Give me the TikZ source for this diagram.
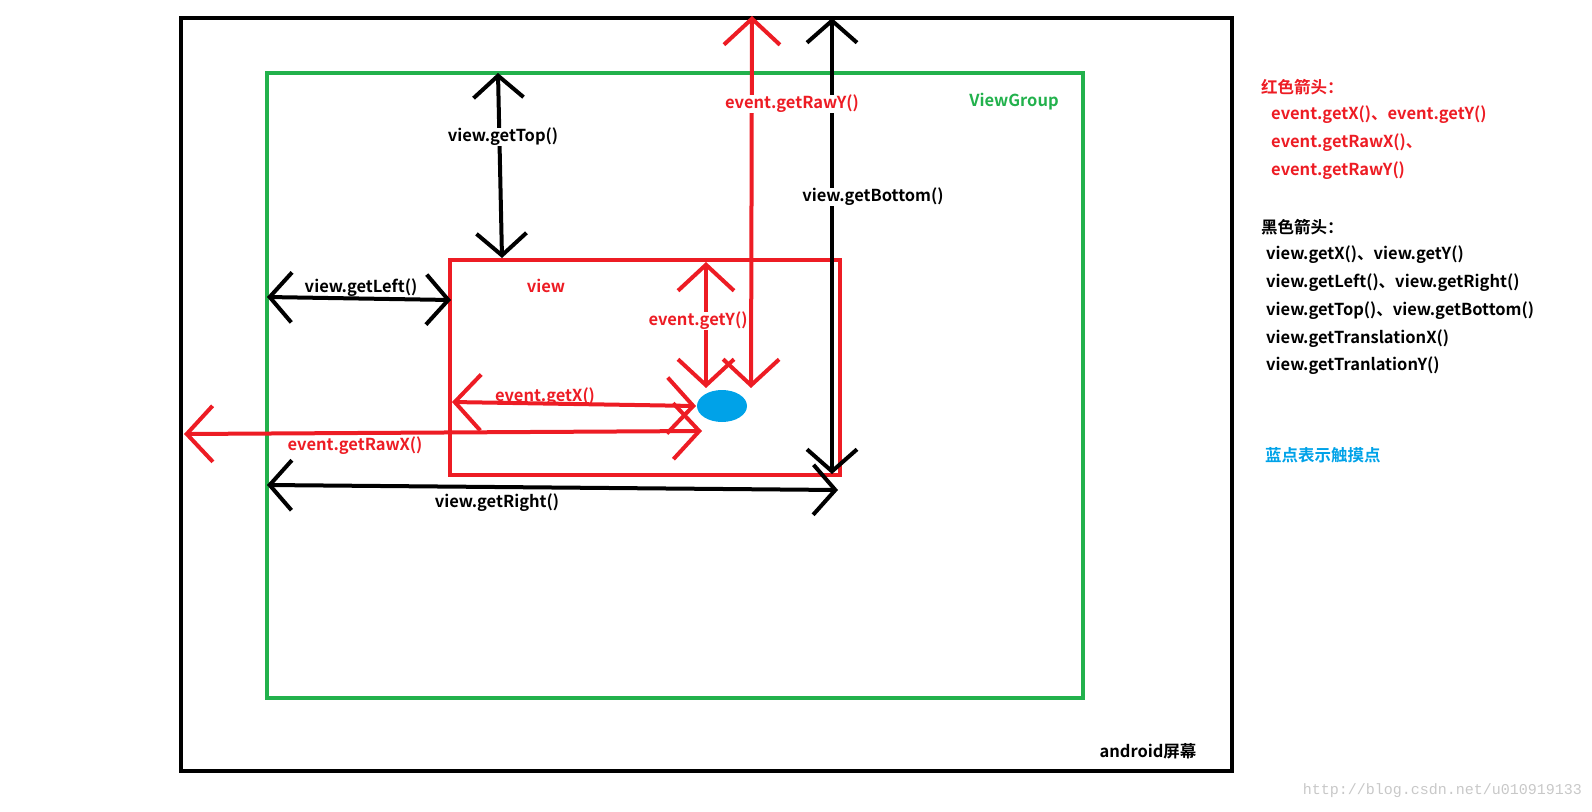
\documentclass[tikz,border=0pt]{standalone}
\usepackage{fontspec}
\setmainfont{Noto Sans CJK SC}[BoldFont={* Bold}]
\newfontfamily\markfont{Liberation Mono}
\usetikzlibrary{arrows.meta}

\definecolor{evred}{RGB}{237,28,36}
\definecolor{vggreen}{RGB}{34,177,76}
\definecolor{touchblue}{RGB}{0,162,232}
\definecolor{markgray}{RGB}{200,200,200}

\begin{document}
\begin{tikzpicture}[x=1pt, y=-1pt,
    >={Straight Barb[length=22pt,width=50pt]},
    every node/.style={font=\fontsize{16.5}{19}\selectfont\bfseries, inner sep=0pt},
    cut/.style={fill=white, inner sep=0.5pt},
    legend/.style={anchor=west}]

    % Size of the whole picture, in pixels of the screenshot
    \useasboundingbox (0,0) rectangle (1592,811);

    % Define the three frames: screen, ViewGroup and view
    \coordinate (S1) at (181,18);
    \coordinate (S2) at (1232,771);
    \coordinate (G1) at (267,73);
    \coordinate (G2) at (1083,698);
    \coordinate (V1) at (450,260);
    \coordinate (V2) at (840,475);

    % Define the touch point
    \coordinate (T) at (722,406);

    % Draw the frames
    \draw[line width=4.5pt] (S1) rectangle (S2);
    \draw[line width=4pt, vggreen] (G1) rectangle (G2);
    \draw[line width=4pt, evred] (V1) rectangle (V2);

    % Draw the touch point as a blue dot
    \fill[touchblue] (T) ellipse (25 and 16);

    % Define the ends of the black arrows
    \coordinate (topA) at (498,73);
    \coordinate (topB) at (502,258);
    \coordinate (leftA) at (267,297);
    \coordinate (leftB) at (451,300);
    \coordinate (rightA) at (267,485);
    \coordinate (rightB) at (838,490);
    \coordinate (botA) at (832,18);
    \coordinate (botB) at (832,474);

    % Draw the black arrows
    \draw[line width=4pt, <->] (topA) -- (topB);
    \draw[line width=4pt, <->] (leftA) -- (leftB);
    \draw[line width=4pt, <->] (rightA) -- (rightB);
    \draw[line width=4pt, <->] (botA) -- (botB);

    % Define the ends of the red arrows
    \coordinate (rawyA) at (752,16);
    \coordinate (rawyB) at (751,388);
    \coordinate (yA) at (706,262);
    \coordinate (yB) at (706,388);
    \coordinate (xA) at (452,402);
    \coordinate (xB) at (696,406);
    \coordinate (rawxA) at (184,434);
    \coordinate (rawxB) at (702,431);

    % Draw the red arrows, a little wider at the tips
    \draw[line width=4pt, evred, <->, >={Straight Barb[length=26pt,width=56pt]}] (rawyA) -- (rawyB);
    \draw[line width=4pt, evred, <->, >={Straight Barb[length=26pt,width=56pt]}] (yA) -- (yB);
    \draw[line width=4pt, evred, <->, >={Straight Barb[length=26pt,width=56pt]}] (xA) -- (xB);
    \draw[line width=4pt, evred, <->, >={Straight Barb[length=26pt,width=56pt]}] (rawxA) -- (rawxB);

    % Add the labels of the arrows and frames
    \node[cut] (lTop) at (503,137) {view.getTop()};
    \node (lLeft) at (361,288) {view.getLeft()};
    \node (lRight) at (497,503) {view.getRight()};
    \node[cut] (lBottom) at (873,197) {view.getBottom()};
    \node[cut, text=evred] (lRawY) at (792,104) {event.getRawY()};
    \node[cut, text=evred] (lY) at (698,321) {event.getY()};
    \node[text=evred] (lX) at (545,397) {event.getX()};
    \node[text=evred] (lRawX) at (355,446) {event.getRawX()};
    \node[text=evred] (lView) at (546,286) {view};
    \node[text=vggreen] (lGroup) at (1014,102) {ViewGroup};
    \node (lScreen) at (1148,751) {android屏幕};

    % Add the legend on the right
    \node[legend, text=evred] (redHead) at (1261,87) {红色箭头：};
    \node[legend, text=evred] (red1) at (1271,115) {event.getX()、event.getY()};
    \node[legend, text=evred] (red2) at (1271,143) {event.getRawX()、};
    \node[legend, text=evred] (red3) at (1271,171) {event.getRawY()};
    \node[legend] (blackHead) at (1261,227) {黑色箭头：};
    \node[legend] (black1) at (1266,255) {view.getX()、view.getY()};
    \node[legend] (black2) at (1266,283) {view.getLeft()、view.getRight()};
    \node[legend] (black3) at (1266,311) {view.getTop()、view.getBottom()};
    \node[legend] (black4) at (1266,339) {view.getTranslationX()};
    \node[legend] (black5) at (1266,366) {view.getTranlationY()};
    \node[legend, text=touchblue] (blueNote) at (1265,455) {蓝点表示触摸点};

    % Watermark of the blog
    \node[anchor=east, text=markgray, font=\markfont\fontsize{15}{18}\selectfont] (mark) at (1582,791) {http://blog.csdn.net/u010919133};

\end{tikzpicture}
\end{document}
